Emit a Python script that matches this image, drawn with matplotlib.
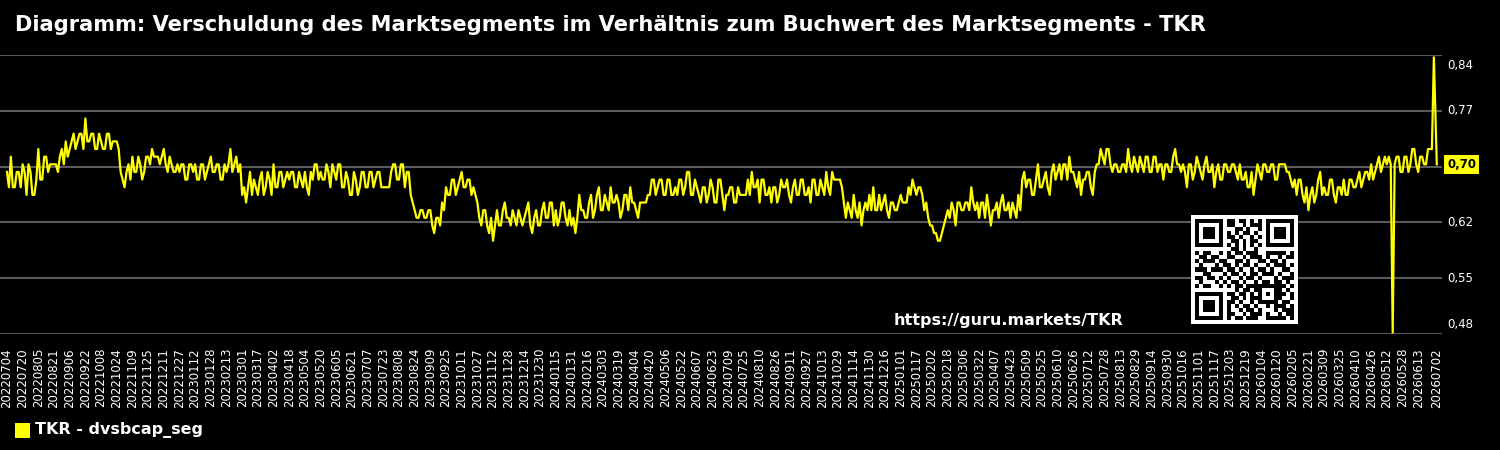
import numpy as np
import pandas as pd
import matplotlib
matplotlib.use('Agg')
import matplotlib.pyplot as plt
import matplotlib.transforms as mtransforms
from matplotlib.patches import Rectangle

# ---------------- data ----------------
START_DATE = '2022-07-04'
END_DATE = '2026-07-02'
SAMPLE_STEP = 2          # one reading every 2 days
TICK_STEP = 16           # x tick label every 16 days

series_name = 'TKR - dvsbcap_seg'
title = 'Diagramm: Verschuldung des Marktsegments im Verhältnis zum Buchwert des Marktsegments - TKR'
url = 'https://guru.markets/TKR'

# readings, 8 per 16-day tick interval
values_part1 = [
    0.69, 0.67, 0.71, 0.67, 0.67, 0.69, 0.69, 0.67,
    0.70, 0.69, 0.66, 0.70, 0.69, 0.66, 0.66, 0.68,
    0.72, 0.68, 0.68, 0.71, 0.71, 0.69, 0.70, 0.70,
    0.70, 0.70, 0.69, 0.71, 0.72, 0.70, 0.73, 0.71,
    0.72, 0.73, 0.74, 0.72, 0.73, 0.74, 0.74, 0.72,
    0.76, 0.73, 0.73, 0.74, 0.74, 0.72, 0.72, 0.74,
    0.73, 0.72, 0.72, 0.74, 0.74, 0.72, 0.73, 0.73,
    0.73, 0.72, 0.69, 0.68, 0.67, 0.69, 0.70, 0.68,
    0.71, 0.69, 0.69, 0.71, 0.70, 0.68, 0.69, 0.71,
    0.71, 0.70, 0.72, 0.71, 0.71, 0.71, 0.70, 0.71,
    0.72, 0.70, 0.69, 0.71, 0.70, 0.69, 0.69, 0.70,
    0.69, 0.70, 0.70, 0.68, 0.68, 0.70, 0.70, 0.69,
    0.70, 0.68, 0.68, 0.70, 0.70, 0.68, 0.69, 0.70,
    0.71, 0.69, 0.69, 0.70, 0.70, 0.68, 0.68, 0.70,
    0.69, 0.70, 0.72, 0.69, 0.70, 0.71, 0.69, 0.70,
    0.66, 0.67, 0.65, 0.67, 0.69, 0.66, 0.68, 0.67,
    0.66, 0.68, 0.69, 0.66, 0.67, 0.69, 0.68, 0.66,
    0.70, 0.67, 0.67, 0.69, 0.69, 0.67, 0.68, 0.69,
    0.68, 0.69, 0.69, 0.67, 0.67, 0.69, 0.68, 0.67,
    0.69, 0.67, 0.66, 0.69, 0.68, 0.70, 0.70, 0.68,
    0.69, 0.68, 0.68, 0.70, 0.69, 0.67, 0.70, 0.69,
    0.68, 0.70, 0.70, 0.67, 0.67, 0.69, 0.68, 0.66,
    0.66, 0.69, 0.68, 0.66, 0.67, 0.69, 0.69, 0.67,
]
values_part2 = [
    0.67, 0.69, 0.69, 0.67, 0.68, 0.69, 0.69, 0.67,
    0.67, 0.67, 0.67, 0.67, 0.69, 0.70, 0.70, 0.68,
    0.68, 0.70, 0.70, 0.67, 0.69, 0.69, 0.66, 0.65,
    0.64, 0.63, 0.63, 0.64, 0.64, 0.63, 0.63, 0.64,
    0.64, 0.62, 0.61, 0.63, 0.63, 0.62, 0.65, 0.64,
    0.67, 0.66, 0.66, 0.68, 0.68, 0.66, 0.67, 0.68,
    0.69, 0.67, 0.67, 0.68, 0.68, 0.66, 0.67, 0.66,
    0.65, 0.63, 0.62, 0.64, 0.64, 0.62, 0.61, 0.63,
    0.60, 0.62, 0.64, 0.62, 0.62, 0.64, 0.65, 0.63,
    0.63, 0.62, 0.64, 0.63, 0.62, 0.64, 0.63, 0.62,
    0.63, 0.64, 0.65, 0.62, 0.61, 0.63, 0.64, 0.62,
    0.62, 0.64, 0.65, 0.63, 0.63, 0.65, 0.65, 0.62,
    0.64, 0.62, 0.63, 0.65, 0.65, 0.63, 0.62, 0.64,
    0.62, 0.63, 0.61, 0.63, 0.66, 0.64, 0.64, 0.63,
    0.63, 0.65, 0.66, 0.63, 0.64, 0.66, 0.67, 0.64,
    0.64, 0.66, 0.65, 0.64, 0.67, 0.65, 0.65, 0.66,
    0.65, 0.63, 0.64, 0.66, 0.66, 0.64, 0.67, 0.65,
    0.65, 0.64, 0.63, 0.65, 0.65, 0.65, 0.65, 0.66,
    0.66, 0.68, 0.68, 0.66, 0.67, 0.68, 0.68, 0.66,
    0.66, 0.68, 0.68, 0.66, 0.66, 0.67, 0.66, 0.68,
    0.68, 0.66, 0.67, 0.69, 0.69, 0.66, 0.66, 0.68,
    0.67, 0.66, 0.65, 0.67, 0.67, 0.65, 0.66, 0.68,
    0.67, 0.65, 0.65, 0.68, 0.68, 0.66, 0.64, 0.66,
]
values_part3 = [
    0.66, 0.67, 0.67, 0.65, 0.65, 0.67, 0.66, 0.66,
    0.66, 0.66, 0.68, 0.66, 0.69, 0.67, 0.67, 0.68,
    0.65, 0.68, 0.68, 0.66, 0.66, 0.67, 0.65, 0.67,
    0.67, 0.65, 0.66, 0.68, 0.67, 0.67, 0.68, 0.66,
    0.65, 0.67, 0.68, 0.66, 0.66, 0.68, 0.68, 0.66,
    0.66, 0.67, 0.65, 0.68, 0.68, 0.66, 0.66, 0.68,
    0.67, 0.66, 0.69, 0.67, 0.66, 0.69, 0.68, 0.68,
    0.68, 0.68, 0.67, 0.65, 0.63, 0.65, 0.64, 0.63,
    0.66, 0.64, 0.63, 0.65, 0.62, 0.64, 0.65, 0.64,
    0.66, 0.64, 0.67, 0.64, 0.64, 0.66, 0.64, 0.65,
    0.66, 0.64, 0.63, 0.65, 0.65, 0.64, 0.64, 0.65,
    0.66, 0.65, 0.65, 0.65, 0.67, 0.66, 0.68, 0.67,
    0.66, 0.67, 0.67, 0.66, 0.64, 0.65, 0.63, 0.62,
    0.62, 0.61, 0.61, 0.60, 0.60, 0.61, 0.62, 0.63,
    0.64, 0.63, 0.65, 0.64, 0.62, 0.65, 0.65, 0.64,
    0.64, 0.65, 0.65, 0.64, 0.67, 0.65, 0.64, 0.65,
    0.63, 0.65, 0.65, 0.63, 0.66, 0.64, 0.62, 0.64,
    0.64, 0.65, 0.63, 0.65, 0.66, 0.64, 0.64, 0.65,
    0.63, 0.65, 0.64, 0.63, 0.66, 0.64, 0.68, 0.69,
    0.67, 0.68, 0.68, 0.66, 0.66, 0.68, 0.70, 0.67,
    0.67, 0.68, 0.69, 0.67, 0.66, 0.69, 0.70, 0.68,
    0.69, 0.70, 0.68, 0.70, 0.70, 0.68, 0.71, 0.69,
    0.69, 0.68, 0.67, 0.69, 0.66, 0.68, 0.68, 0.69,
]
values_part4 = [
    0.69, 0.67, 0.66, 0.69, 0.70, 0.70, 0.72, 0.71,
    0.70, 0.72, 0.72, 0.70, 0.69, 0.70, 0.70, 0.69,
    0.69, 0.70, 0.70, 0.69, 0.72, 0.70, 0.69, 0.71,
    0.70, 0.69, 0.71, 0.70, 0.69, 0.71, 0.71, 0.69,
    0.69, 0.71, 0.71, 0.69, 0.70, 0.70, 0.68, 0.70,
    0.70, 0.69, 0.69, 0.71, 0.72, 0.70, 0.70, 0.69,
    0.70, 0.69, 0.67, 0.70, 0.70, 0.68, 0.69, 0.71,
    0.70, 0.69, 0.68, 0.70, 0.71, 0.69, 0.69, 0.70,
    0.67, 0.69, 0.70, 0.68, 0.68, 0.70, 0.70, 0.69,
    0.69, 0.70, 0.70, 0.69, 0.68, 0.70, 0.68, 0.68,
    0.69, 0.67, 0.67, 0.69, 0.66, 0.68, 0.70, 0.69,
    0.68, 0.70, 0.70, 0.69, 0.69, 0.70, 0.70, 0.68,
    0.68, 0.70, 0.70, 0.70, 0.70, 0.69, 0.69, 0.68,
    0.67, 0.68, 0.66, 0.68, 0.68, 0.66, 0.65, 0.67,
    0.64, 0.66, 0.67, 0.65, 0.66, 0.68, 0.69, 0.66,
    0.67, 0.66, 0.66, 0.68, 0.68, 0.66, 0.65, 0.67,
    0.67, 0.66, 0.68, 0.66, 0.66, 0.68, 0.68, 0.67,
    0.67, 0.68, 0.69, 0.67, 0.68, 0.69, 0.69, 0.68,
    0.70, 0.68, 0.69, 0.70, 0.71, 0.69, 0.70, 0.71,
    0.70, 0.71, 0.70, 0.48, 0.70, 0.71, 0.71, 0.69,
    0.69, 0.71, 0.71, 0.69, 0.70, 0.72, 0.72, 0.70,
    0.69, 0.71, 0.71, 0.70, 0.70, 0.72, 0.72, 0.72,
    0.84, 0.70,
]

y_min, y_max = 0.478, 0.843   # axis range (gridlines at 6 even steps)
last_label = '0,70'

# ---------------- build ----------------
dates = pd.date_range(START_DATE, END_DATE, freq='D')
day_index = np.arange(len(dates))
sample_pos = np.append(day_index[0:len(dates) - 3:SAMPLE_STEP], day_index[-1])
values = np.array(values_part1 + values_part2 + values_part3 + values_part4)
assert len(values) == len(sample_pos), (len(values), len(sample_pos))

tick_pos = np.append(day_index[:len(dates) - TICK_STEP:TICK_STEP], day_index[-1])
tick_labels = [dates[i].strftime('%Y%m%d') for i in tick_pos]

W, H = 1500, 450
fig = plt.figure(figsize=(W / 100, H / 100), dpi=100, facecolor='black')

ax_left, ax_right, ax_top, ax_bot = 0, 1442, 55, 334
ax = fig.add_axes([ax_left / W, 1 - ax_bot / H, (ax_right - ax_left) / W, (ax_bot - ax_top) / H])
ax.set_facecolor('black')
for s in ax.spines.values():
    s.set_visible(False)

ax.plot(sample_pos, values, color='#ffff00', lw=1.6)

ax.set_xlim(-7.1, 1464.3)
ax.set_ylim(y_min, y_max)

grid_vals = np.linspace(y_min, y_max, 6)
ax.set_yticks(grid_vals)
ax.yaxis.grid(True, color='#5a5a5a', lw=1.5)
ax.set_axisbelow(True)
ax.tick_params(axis='y', length=0, labelleft=False, labelright=False)

ytrans = mtransforms.blended_transform_factory(ax.transAxes, ax.transData)
for i, gv in enumerate(grid_vals):
    lab = f'{gv:.2f}'.replace('.', ',')
    va = 'center'
    off = 0
    if i == 0:
        va, off = 'bottom', 3
    elif i == len(grid_vals) - 1:
        va, off = 'top', -4
    t = ytrans + mtransforms.ScaledTranslation(0, off / 100, fig.dpi_scale_trans)
    ax.text(1.0 + 5 / 1442, gv, lab, transform=t, color='white', fontsize=8.5,
            va=va, ha='left', clip_on=False)

# highlighted last value
ax.text(1.0 + 5 / 1442, values[-1], last_label, transform=ytrans, color='black',
        fontsize=8.5, fontweight='bold', va='center', ha='left',
        bbox=dict(facecolor='#ffff00', edgecolor='none', pad=2.2), zorder=10)

ax.set_xticks(tick_pos)
ax.set_xticklabels(tick_labels, rotation=90, fontsize=8.5, color='white')
ax.tick_params(axis='x', length=0, pad=10)

# title
fig.text(15 / W, 1 - 25 / H, title, color='white', fontsize=15.1, fontweight='bold',
         ha='left', va='center')

# legend
fig.add_artist(Rectangle((15 / W, 1 - 438 / H), 15 / W, 15 / H, transform=fig.transFigure,
                         facecolor='#ffff00', edgecolor='none'))
fig.text(35 / W, 1 - 430 / H, series_name, color='white', fontsize=11.5,
         fontweight='bold', ha='left', va='center')

# url
fig.text(1123 / W, 1 - 320 / H, url, color='white', fontsize=11.5, fontweight='bold',
         ha='right', va='center')

# QR-like code
qr_rows = [
    "1101001011011010110101101",
    "0110110011001011101001011",
    "1011101100110100110110100",
    "0100010110101101001011101",
    "1110111011010010110100110",
    "0011000101101011011101001",
    "1101101010010110100010111",
    "0100011101101001011011010",
    "1011001010110111001111101",
    "0110110011001011101001011",
    "1011101100110100110110100",
    "0100010110101101001011101",
    "1110111011010010110100110",
    "0011000101101011011101001",
    "1101101010010110100010111",
    "0100011101101001011011010",
    "1011001010110111001111101",
    "0101110100101101010011010",
    "1101001011011010110101101",
    "0011000101101011011101001",
    "1110111011010010110100110",
    "0100010110101101001011101",
    "1101101010010110100010111",
    "0110110011001011101001011",
    "1011001010110111001111101",
]
n = len(qr_rows)
qr = np.array([[int(c) for c in r] for r in qr_rows])
finder = np.array([[1, 1, 1, 1, 1, 1, 1],
                   [1, 0, 0, 0, 0, 0, 1],
                   [1, 0, 1, 1, 1, 0, 1],
                   [1, 0, 1, 1, 1, 0, 1],
                   [1, 0, 1, 1, 1, 0, 1],
                   [1, 0, 0, 0, 0, 0, 1],
                   [1, 1, 1, 1, 1, 1, 1]])
for (r0, c0) in [(0, 0), (0, n - 7), (n - 7, 0)]:
    rs = slice(max(r0 - 1, 0), min(r0 + 8, n))
    cs = slice(max(c0 - 1, 0), min(c0 + 8, n))
    qr[rs, cs] = 0
    qr[r0:r0 + 7, c0:c0 + 7] = finder
for k in range(8, n - 8):
    qr[6, k] = 1 - (k % 2)
    qr[k, 6] = 1 - (k % 2)
align = np.array([[1, 1, 1, 1, 1], [1, 0, 0, 0, 1], [1, 0, 1, 0, 1], [1, 0, 0, 0, 1], [1, 1, 1, 1, 1]])
qr[16:21, 16:21] = align
qr_full = np.zeros((n + 2, n + 2), dtype=int)
qr_full[1:-1, 1:-1] = qr

qax = fig.add_axes([1191 / W, 1 - 324 / H, 107 / W, 109 / H])
qax.imshow(qr_full, cmap='gray_r', interpolation='nearest', aspect='auto', vmin=0, vmax=1)
qax.set_axis_off()

fig.savefig('out.png', dpi=100, facecolor='black')
